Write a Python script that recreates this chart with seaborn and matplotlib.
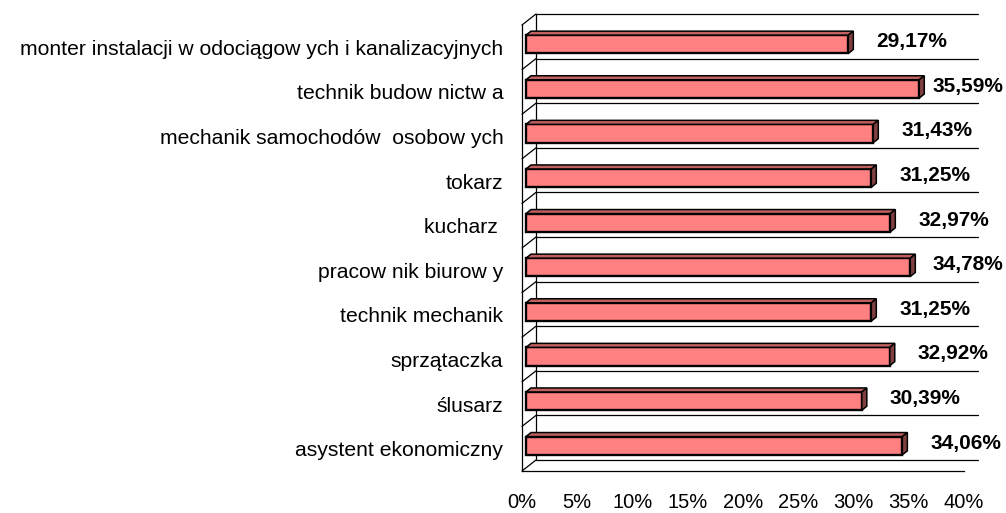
import numpy as np
import pandas as pd
import matplotlib
matplotlib.use("Agg")
import matplotlib.pyplot as plt
import matplotlib.transforms as mtrans
from matplotlib.patches import Polygon
from matplotlib.lines import Line2D
import seaborn as sns

# data
zawody = ["monter instalacji w odociągow ych i kanalizacyjnych",
          "technik budow nictw a",
          "mechanik samochodów  osobow ych",
          "tokarz",
          "kucharz ",
          "pracow nik biurow y",
          "technik mechanik",
          "sprzątaczka",
          "ślusarz",
          "asystent ekonomiczny"]
procent = [29.17, 35.59, 31.43, 31.25, 32.97, 34.78, 31.25, 32.92, 30.39, 34.06]
xticks = [0, 5, 10, 15, 20, 25, 30, 35, 40]

df = pd.DataFrame({"zawod": zawody, "procent": procent})

sns.set_style("white")
plt.rcParams["font.family"] = ["Liberation Sans", "DejaVu Sans"]
plt.rcParams["text.color"] = "black"
plt.rcParams["xtick.labelcolor"] = "black"
plt.rcParams["ytick.labelcolor"] = "black"

W, H = 1006, 513
fig = plt.figure(figsize=(W / 100, H / 100), dpi=100)
ax = fig.add_axes([522 / W, (H - 471) / H, (964 - 522) / W, (471 - 25) / H])

sns.barplot(data=df, x="procent", y="zawod", orient="h", color="#FF8080",
            saturation=1, width=0.41, edgecolor="black", linewidth=1.7, ax=ax, zorder=3)

n = len(zawody)
ax.set_xlim(0, 40)
ax.set_ylim(n - 0.5, -0.5)
ax.set_xlabel("")
ax.set_ylabel("")

# axes look
for s in ["top", "right"]:
    ax.spines[s].set_visible(False)
for s in ["left", "bottom"]:
    ax.spines[s].set_color("black")
    ax.spines[s].set_linewidth(0.9)

ax.set_xticks(xticks)
ax.set_xticklabels([f"{t}%" for t in xticks])
ax.tick_params(axis="x", length=10, width=0.9, color="#444444", pad=6, labelsize=14.5)

bounds = np.arange(-0.5, n, 1.0)
ax.set_yticks(bounds)
ax.set_yticklabels([])
ax.set_yticks(np.arange(n), minor=True)
ax.set_yticklabels(zawody, minor=True)
ax.tick_params(axis="y", which="major", length=8, width=0.9, color="black")
ax.tick_params(axis="y", which="minor", length=0, pad=13.5, labelsize=15.2)

# 3d back wall
dx, dy = 14, 11
back = ax.transData + mtrans.ScaledTranslation(dx / 100, dy / 100, fig.dpi_scale_trans)
ident = mtrans.IdentityTransform()
for b in bounds:
    ax.plot([0, 40], [b, b], color="black", lw=0.9, transform=back, clip_on=False, zorder=1)
ax.plot([0, 0], [-0.5, n - 0.5], color="black", lw=0.9, transform=back, clip_on=False, zorder=1)
for b in bounds:
    x1, y1 = ax.transData.transform((0, b))
    fig.add_artist(Line2D([x1, x1 + dx], [y1, y1 + dy], color="black", lw=0.9, transform=ident))

# bars: shift front face a bit and add top / side faces
shift = ax.transData + mtrans.ScaledTranslation(4 / 100, 3 / 100, fig.dpi_scale_trans)
ddx, ddy = 5, 4
for p in ax.patches:
    p.set_transform(shift)
    x0, y0, w, h = p.get_x(), p.get_y(), p.get_width(), p.get_height()
    pts = shift.transform([(x0, y0), (x0 + w, y0 + h)])
    left, right = pts[:, 0].min(), pts[:, 0].max()
    bot, top = pts[:, 1].min(), pts[:, 1].max()
    topface = Polygon([(left, top), (right, top), (right + ddx, top + ddy), (left + ddx, top + ddy)],
                      closed=True, facecolor="#C06060", edgecolor="black", lw=1.1,
                      transform=ident, clip_on=False, zorder=4)
    side = Polygon([(right, bot), (right, top), (right + ddx, top + ddy), (right + ddx, bot + ddy)],
                   closed=True, facecolor="#804040", edgecolor="black", lw=1.1,
                   transform=ident, clip_on=False, zorder=4)
    ax.add_patch(topface)
    ax.add_patch(side)

# value labels
for i, v in enumerate(procent):
    xe, yc = shift.transform((v, i))
    xr = min(xe + 99, W - 3)
    fig.text(xr, yc - 3, f"{v:.2f}".replace(".", ",") + "%", transform=ident,
             ha="right", va="baseline", fontsize=15, fontweight="bold")

fig.savefig("out.png", dpi=100)
